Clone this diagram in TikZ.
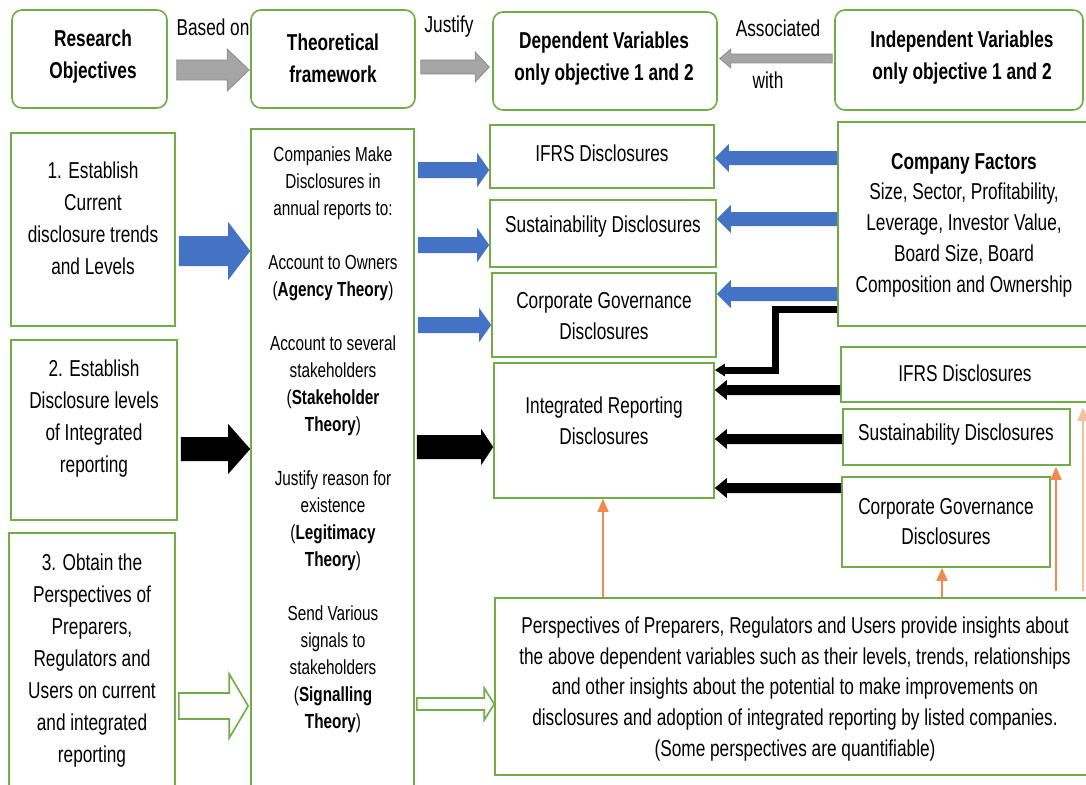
\documentclass[tikz,border=0pt]{standalone}
\usepackage{fontspec}
\setmainfont{Liberation Sans}[FakeStretch=0.75]
\usetikzlibrary{arrows.meta,calc}

\definecolor{boxgreen}{HTML}{70AD47}
\definecolor{fillblue}{HTML}{4472C4}
\definecolor{arrowgray}{HTML}{A5A5A5}
\definecolor{arrowgrayline}{HTML}{8C8C8C}
\definecolor{orangeline}{HTML}{F08B4F}
\definecolor{peach}{HTML}{F6BFA0}

% straight block arrow: style, start point, tip point, centre y, half body, half head, signed head length
\newcommand\blockarrow[7]{%
  \path[#1] let \p1=#2, \p2=#3 in
    (\x1,{-(#4-#5)*1pt}) -- ({\x2-(#7)*1pt},{-(#4-#5)*1pt}) --
    ({\x2-(#7)*1pt},{-(#4-#6)*1pt}) -- (\x2,{-(#4)*1pt}) --
    ({\x2-(#7)*1pt},{-(#4+#6)*1pt}) -- ({\x2-(#7)*1pt},{-(#4+#5)*1pt}) --
    (\x1,{-(#4+#5)*1pt}) -- cycle;}

\begin{document}
\begin{tikzpicture}[x=1pt,y=-1pt,
  box/.style={draw=boxgreen, line width=1.6pt, inner sep=0pt},
  rbox/.style={box, rounded corners=10pt},
  txt/.style={align=center, inner sep=0pt, font=\fontsize{23}{30.8}\selectfont},
  headtxt/.style={align=center, inner sep=0pt, font=\bfseries\fontsize{23}{32}\selectfont},
  objtxt/.style={align=center, inner sep=0pt, font=\fontsize{23}{32}\selectfont},
  theotxt/.style={align=center, inner sep=0pt, font=\fontsize{20.4}{27}\selectfont},
  grayarrow/.style={fill=arrowgray, draw=arrowgrayline, line width=0.8pt},
  bluearrow/.style={fill=fillblue},
  blackarrow/.style={fill=black},
  hollowarrow/.style={draw=boxgreen, line width=1.6pt, fill=white},
  orangearrow/.style={draw=orangeline, line width=1.5pt, -{Triangle[length=13pt,width=11pt]}},
  peacharrow/.style={draw=peach, line width=1.5pt, -{Triangle[length=13pt,width=11pt]}},
]
\useasboundingbox (0,0) rectangle (1086,784);
\fill[white] (0,0) rectangle (1086,784);

% header row
\node[rbox, minimum width=155, minimum height=98] (ro) at (89.5,59) {};
\node[rbox, minimum width=164, minimum height=98] (tf) at (333,59) {};
\node[rbox, minimum width=224, minimum height=98] (dv) at (605,61) {};
\node[rbox, minimum width=248, minimum height=100] (iv) at (959,60) {};
\node[headtxt] (rot) at (93,57) {Research\\Objectives};
\node[headtxt] (tft) at (333,58) {Theoretical\\framework};
\node[headtxt] (dvt) at (604,59) {Dependent Variables\\only objective 1 and 2};
\node[headtxt] (ivt) at (962,57.5) {Independent Variables\\only objective 1 and 2};

\node[txt] (lbased) at (213,27) {Based on};
\node[txt] (ljust) at (449,27) {Justify};
\node[txt] (lassoc) at (778,28) {Associated};
\node[txt] (lwith) at (768,80) {with};

% objectives column
\node[box, minimum width=164, minimum height=193] (ob1) at (93,229.5) {};
\node[box, minimum width=166, minimum height=180] (ob2) at (94,430) {};
\node[box, minimum width=166, minimum height=267] (ob3) at (92,666.5) {};
\node[objtxt] (ob1t) at (93,218) {1. Establish\\Current\\disclosure trends\\and Levels};
\node[objtxt] (ob2t) at (94,419) {2. Establish\\Disclosure levels\\of Integrated\\reporting};
\node[objtxt] (ob3t) at (92,660.5) {3. Obtain the\\Perspectives of\\Preparers,\\Regulators and\\Users on current\\and integrated\\reporting};

% theories column
\node[box, minimum width=163, minimum height=671] (th) at (332.5,464.5) {};
\node[theotxt] (tht) at (333,440) {Companies Make\\Disclosures in\\annual reports to:\\[27pt]
Account to Owners\\(\textbf{Agency Theory})\\[27pt]
Account to several\\stakeholders\\(\textbf{Stakeholder}\\\textbf{Theory})\\[27pt]
Justify reason for\\existence\\(\textbf{Legitimacy}\\\textbf{Theory})\\[27pt]
Send Various\\signals to\\stakeholders\\(\textbf{Signalling}\\\textbf{Theory})};

% dependent variables column
\node[box, minimum width=224, minimum height=63] (d1) at (602,156.5) {};
\node[box, minimum width=226, minimum height=67] (d2) at (603,233.5) {};
\node[box, minimum width=224, minimum height=84] (d3) at (604,315) {};
\node[box, minimum width=220, minimum height=135] (d4) at (604,430.5) {};
\node[txt] (d1t) at (602,153) {IFRS Disclosures};
\node[txt] (d2t) at (603,227) {Sustainability Disclosures};
\node[txt] (d3t) at (604,316) {Corporate Governance\\Disclosures};
\node[txt] (d4t) at (604,421) {Integrated Reporting\\Disclosures};

% independent variables column
\node[box, minimum width=257, minimum height=204] (cf) at (966.5,224) {};
\node[box, minimum width=254, minimum height=55] (i1) at (968,374.5) {};
\node[box, minimum width=227, minimum height=56] (i2) at (956.5,437) {};
\node[box, minimum width=208, minimum height=90] (i3) at (946,522) {};
\node[txt] (cft) at (964,225) {\textbf{Company Factors}\\Size, Sector, Profitability,\\Leverage, Investor Value,\\Board Size, Board\\Composition and Ownership};
\node[txt] (i1t) at (965,373) {IFRS Disclosures};
\node[txt] (i2t) at (956,435) {Sustainability Disclosures};
\node[txt] (i3t) at (946,521.5) {Corporate Governance\\Disclosures};

% perspectives box
\node[box, minimum width=600, minimum height=177] (pv) at (795,686.5) {};
\node[txt] (pvt) at (795,689) {Perspectives of Preparers, Regulators and Users provide insights about\\the above dependent variables such as their levels, trends, relationships\\and other insights about the potential to make improvements on\\disclosures and adoption of integrated reporting by listed companies.\\(Some perspectives are quantifiable)};

% header arrows
\blockarrow{grayarrow}{($(ro.east)+(9,0)$)}{($(tf.west)+(-1,0)$)}{70}{10}{21}{22}
\blockarrow{grayarrow}{($(tf.east)+(5,0)$)}{($(dv.west)+(-3,0)$)}{67}{7}{15}{14}
\blockarrow{grayarrow}{($(iv.west)+(-2,0)$)}{($(dv.east)+(2,0)$)}{58.5}{4.5}{9.5}{-11}

% objectives to theories
\blockarrow{bluearrow}{($(ob1.east)+(3,0)$)}{(th.west)}{251}{15}{29}{22}
\blockarrow{blackarrow}{($(ob2.east)+(3,0)$)}{(th.west)}{449}{12}{25}{22}
\blockarrow{hollowarrow}{($(ob3.east)+(3,0)$)}{($(th.west)+(-2,0)$)}{706}{13}{32}{19}

% theories to dependent variables
\blockarrow{bluearrow}{($(th.east)+(3,0)$)}{(d1.west)}{170}{8}{17}{12}
\blockarrow{bluearrow}{($(th.east)+(3,0)$)}{(d2.west)}{245}{8}{17}{12}
\blockarrow{bluearrow}{($(th.east)+(3,0)$)}{(d3.west)}{325}{8}{17}{12}
\blockarrow{blackarrow}{($(th.east)+(2,0)$)}{(d4.west)}{447}{12}{18}{12}
\blockarrow{hollowarrow}{($(th.east)+(2,0)$)}{(pv.west)}{704}{6}{16}{10}

% company factors to dependent variables
\blockarrow{bluearrow}{(cf.west)}{(d1.east)}{158}{7}{14}{-14}
\blockarrow{bluearrow}{(cf.west)}{(d2.east)}{219}{7}{14}{-14}
\blockarrow{bluearrow}{(cf.west)}{(d3.east)}{294}{7}{14}{-14}

% disclosures to integrated reporting
\coordinate (bend) at (775,309);
\draw[line width=7pt, line join=miter, -{Triangle[length=10pt,width=12pt]}]
  (cf.west |- bend) -- (bend) -- (bend |- 0,370) -- (d4.east |- 0,370);
\blockarrow{blackarrow}{(i1.west)}{(d4.east)}{390}{5}{10}{-12}
\blockarrow{blackarrow}{(i2.west)}{(d4.east)}{439}{5}{10}{-12}
\blockarrow{blackarrow}{(i3.west)}{(d4.east)}{488}{5}{10}{-12}

% perspectives feed back into the disclosures
\draw[orangearrow] (pv.north -| 603,0) -- (d4.south -| 603,0);
\draw[orangearrow] (pv.north -| 942,0) -- (i3.south -| 942,0);
\draw[orangearrow] ($(pv.north -| 1056,0)+(0,-6)$) -- ($(i2.south -| 1056,0)+(0,1)$);
\draw[peacharrow] ($(pv.north -| 1083,0)+(0,-6)$) -- ($(i1.south -| 1083,0)+(0,5)$);
\end{tikzpicture}
\end{document}
